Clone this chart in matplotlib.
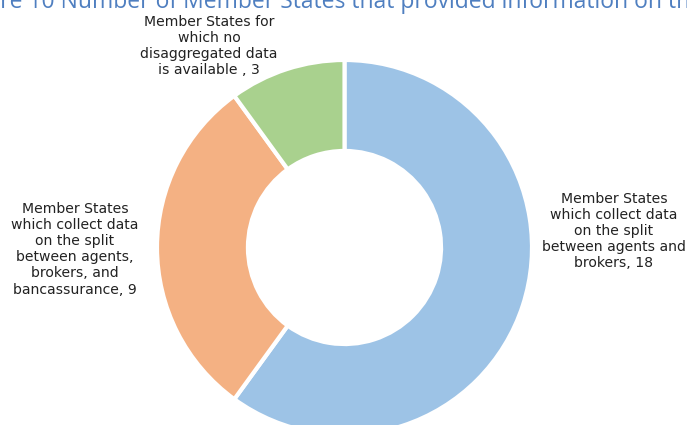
import matplotlib.pyplot as plt

labels = ['Member States\nwhich collect data\non the split\nbetween agents and\nbrokers, 18',
          'Member States\nwhich collect data\non the split\nbetween agents,\nbrokers, and\nbancassurance, 9',
          'Member States for\nwhich no\ndisaggregated data\nis available , 3']
values = [18, 9, 3]
colors = ['#9DC3E6', '#F4B183', '#A9D18E']
title = 'Figure 10 Number of Member States that provided information on the'

W, H = 687, 425
fig = plt.figure(figsize=(W / 100, H / 100), dpi=100)
ax = fig.add_axes([0, 0, 1, 1])

cx, cy, r = 344.5, H - 247.5, 187.5
ax.pie(values, colors=colors, startangle=90, counterclock=False,
       center=(cx, cy), radius=r,
       wedgeprops=dict(width=r * 0.485, edgecolor='white', linewidth=3))
ax.set_xlim(0, W)
ax.set_ylim(0, H)
ax.set_aspect('equal', adjustable='box')
ax.axis('off')

# label positions (pixel coords from top-left)
pos = [(614, 231), (75, 249), (209, 46)]
for lab, (x, y) in zip(labels, pos):
    ax.text(x, H - y, lab, ha='center', va='center', fontsize=10.1,
            linespacing=1.2, color='#222222', family='DejaVu Sans')

# title clipped at the top edge, with "Figu" off the left side
fs = 16.5
tmp = fig.text(0, 0, 'Figu', fontsize=fs, family='Open Sans')
fig.canvas.draw()
off = tmp.get_window_extent().width
tmp.remove()
fig.text(-off / W, 1 - 8 / H, title, fontsize=fs, family='Open Sans',
         color='#4F7FC0', ha='left', va='baseline')

fig.savefig('out.png', dpi=100)
